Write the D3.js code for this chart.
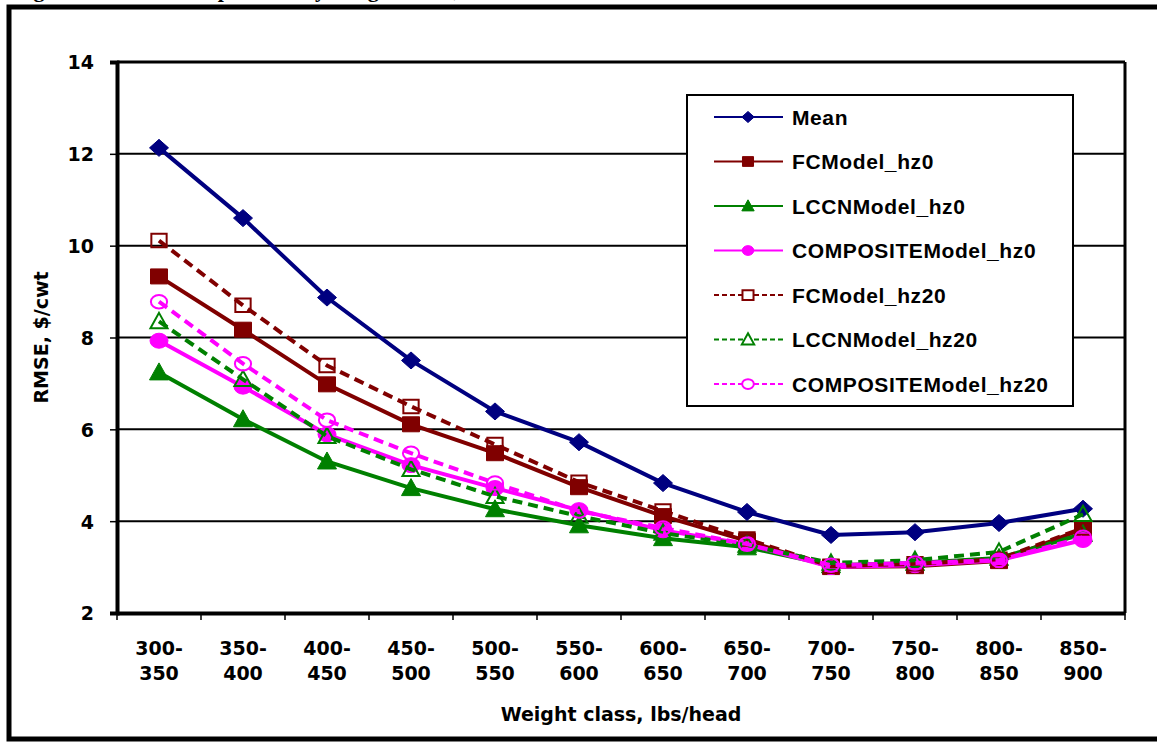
<!DOCTYPE html>
<html>
<head>
<meta charset="utf-8">
<script src="https://cdn.jsdelivr.net/npm/d3@7"></script>
<style>
  body { margin: 0; background: #fff; }
  svg { display: block; }
  text { font-family: "DejaVu Sans", sans-serif; font-weight: bold; fill: #000; }
</style>
</head>
<body>
<svg width="1157" height="744"></svg>
<script>
// weight classes (two-line tick labels)
var categories = ["300-350", "350-400", "400-450", "450-500", "500-550", "550-600",
                  "600-650", "650-700", "700-750", "750-800", "800-850", "850-900"];
var yTicks = [2, 4, 6, 8, 10, 12, 14];

// RMSE, $/cwt
var mean      = [12.13, 10.60, 8.87, 7.50, 6.39, 5.72, 4.83, 4.20, 3.70, 3.76, 3.96, 4.27];
var fcHz0     = [9.33, 8.17, 6.98, 6.11, 5.48, 4.74, 4.11, 3.57, 3.00, 3.02, 3.13, 3.83];
var lccnHz0   = [7.24, 6.22, 5.30, 4.72, 4.26, 3.91, 3.63, 3.43, 3.04, 3.09, 3.20, 3.72];
var compHz0   = [7.93, 6.93, 5.89, 5.22, 4.72, 4.24, 3.80, 3.50, 3.00, 3.04, 3.15, 3.59];
var fcHz20    = [10.11, 8.70, 7.39, 6.50, 5.67, 4.85, 4.22, 3.61, 3.02, 3.07, 3.17, 3.85];
var lccnHz20  = [8.35, 7.09, 5.85, 5.13, 4.54, 4.11, 3.74, 3.48, 3.09, 3.15, 3.33, 4.15];
var compHz20  = [8.78, 7.43, 6.20, 5.48, 4.83, 4.22, 3.85, 3.50, 3.04, 3.09, 3.15, 3.65];

var series = [
  {name: "Mean",                values: mean,     color: "#000080", shape: "diamond",  dash: null,  filled: true},
  {name: "FCModel_hz0",         values: fcHz0,    color: "#800000", shape: "square",   dash: null,  filled: true},
  {name: "LCCNModel_hz0",       values: lccnHz0,  color: "#008000", shape: "triangle", dash: null,  filled: true},
  {name: "COMPOSITEModel_hz0",  values: compHz0,  color: "#FF00FF", shape: "circle",   dash: null,  filled: true},
  {name: "FCModel_hz20",        values: fcHz20,   color: "#800000", shape: "square",   dash: "10,6", filled: false},
  {name: "LCCNModel_hz20",      values: lccnHz20, color: "#008000", shape: "triangle", dash: "10,6", filled: false},
  {name: "COMPOSITEModel_hz20", values: compHz20, color: "#FF00FF", shape: "circle",   dash: "10,6", filled: false}
];

var svg = d3.select("svg"),
    plot = {left: 117, right: 1125, top: 62, bottom: 613};

var x = d3.scaleBand().domain(categories).range([plot.left, plot.right]),
    y = d3.scaleLinear().domain([2, 14]).range([plot.bottom, plot.top]);

/* title, mostly cut off at top of page (as in the source) */
svg.append("text")
    .attr("x", 14).attr("y", -3)
    .style("font-family", "'Liberation Serif', 'Times New Roman', serif")
    .style("font-size", "22px")
    .text("Figure 4. RMSE Comparisons by Weight Class, Oklahoma Feeder Steers");

/* outer frame */
svg.append("rect")
    .attr("x", 9).attr("y", 7).attr("width", 1170).attr("height", 732)
    .attr("fill", "none").attr("stroke", "#000").attr("stroke-width", 5);

/* gridlines */
svg.append("g")
    .selectAll("line")
    .data(yTicks.slice(1, -1))
    .enter().append("line")
    .attr("x1", plot.left).attr("x2", plot.right)
    .attr("y1", function(d) { return y(d); })
    .attr("y2", function(d) { return y(d); })
    .attr("stroke", "#000").attr("stroke-width", 2);

/* plot frame: top + right thin, left + bottom heavy */
svg.append("line").attr("x1", plot.left).attr("x2", plot.right)
    .attr("y1", plot.top).attr("y2", plot.top)
    .attr("stroke", "#000").attr("stroke-width", 3);
svg.append("line").attr("x1", plot.right).attr("x2", plot.right)
    .attr("y1", plot.top).attr("y2", plot.bottom)
    .attr("stroke", "#000").attr("stroke-width", 3);

/* y axis */
var yAxis = svg.append("g")
    .attr("transform", "translate(" + plot.left + ",0)")
    .call(d3.axisLeft(y).tickValues(yTicks).tickSize(7).tickPadding(16).tickFormat(d3.format("d")));
yAxis.select(".domain").attr("stroke-width", 4);
yAxis.selectAll(".tick line").attr("stroke-width", 1.5);
yAxis.selectAll("text").style("font-size", "19px").attr("font-family", null).attr("dy", "0.36em");

/* x axis: ticks on band boundaries */
var xAxis = svg.append("g")
    .attr("transform", "translate(0," + plot.bottom + ")")
    .call(d3.axisBottom(x).tickSize(0).tickFormat(""));
xAxis.select(".domain").attr("stroke-width", 4);
xAxis.selectAll(".tick").remove();

var bounds = categories.map(function(c) { return x(c); }).concat([plot.right]);
xAxis.selectAll(".bound")
    .data(bounds)
    .enter().append("line")
    .attr("x1", function(d) { return d; }).attr("x2", function(d) { return d; })
    .attr("y1", 0).attr("y2", 7)
    .attr("stroke", "#000").attr("stroke-width", 1.5);

var xl = svg.append("g").selectAll("text")
    .data(categories)
    .enter().append("text")
    .attr("text-anchor", "middle")
    .attr("x", function(d) { return x(d) + x.bandwidth() / 2; })
    .attr("y", 655)
    .style("font-size", "19px");
xl.append("tspan").text(function(d) { return d.split("-")[0] + "-"; });
xl.append("tspan")
    .attr("x", function(d) { return x(d) + x.bandwidth() / 2; })
    .attr("dy", 25)
    .text(function(d) { return d.split("-")[1]; });

/* axis titles */
svg.append("text")
    .attr("x", (plot.left + plot.right) / 2).attr("y", 721)
    .attr("text-anchor", "middle")
    .style("font-size", "19px")
    .text("Weight class, lbs/head");

svg.append("text")
    .attr("transform", "translate(48," + ((plot.top + plot.bottom) / 2) + ") rotate(-90)")
    .attr("text-anchor", "middle")
    .style("font-size", "19px")
    .text("RMSE, $/cwt");

/* markers (chart was stretched sideways, so markers are a bit wider than tall) */
function markerPath(shape, k) {
  if (shape === "diamond") {
    return "M0," + (-8.5 * k) + "L" + (9.5 * k) + ",0L0," + (8.5 * k) + "L" + (-9.5 * k) + ",0Z";
  }
  if (shape === "square") {
    return "M" + (-8.5 * k) + "," + (-7.5 * k) + "h" + (17 * k) + "v" + (15 * k) + "h" + (-17 * k) + "Z";
  }
  if (shape === "triangle") {
    return "M0," + (-9.5 * k) + "L" + (9.5 * k) + "," + (7.5 * k) + "L" + (-9.5 * k) + "," + (7.5 * k) + "Z";
  }
  // ellipse
  var rx = 9 * k, ry = 7.5 * k;
  return "M" + (-rx) + ",0A" + rx + "," + ry + " 0 1,0 " + rx + ",0A" + rx + "," + ry + " 0 1,0 " + (-rx) + ",0Z";
}

var line = d3.line()
    .x(function(d, i) { return x(categories[i]) + x.bandwidth() / 2; })
    .y(function(d) { return y(d); });

series.forEach(function(s) {
  var g = svg.append("g").attr("class", "series");
  g.append("path")
      .attr("d", line(s.values))
      .attr("fill", "none")
      .attr("stroke", s.color)
      .attr("stroke-width", 4)
      .attr("stroke-dasharray", s.dash);
  g.selectAll(".pt")
      .data(s.values)
      .enter().append("path")
      .attr("transform", function(d, i) {
        return "translate(" + (x(categories[i]) + x.bandwidth() / 2) + "," + y(d) + ")"; })
      .attr("d", markerPath(s.shape, s.filled ? 1 : 0.9))
      .attr("fill", s.filled ? s.color : "none")
      .attr("stroke", s.color)
      .attr("stroke-width", s.filled ? 1 : 2);
});

/* legend */
var legend = svg.append("g").attr("transform", "translate(687,95)");
legend.append("rect")
    .attr("width", 386).attr("height", 311)
    .attr("fill", "#fff").attr("stroke", "#000").attr("stroke-width", 2);

var item = legend.selectAll(".item")
    .data(series)
    .enter().append("g")
    .attr("transform", function(d, i) { return "translate(0," + (22 + i * 44.5) + ")"; });
item.append("line")
    .attr("x1", 27).attr("x2", 96)
    .attr("stroke", function(d) { return d.color; })
    .attr("stroke-width", 2)
    .attr("stroke-dasharray", function(d) { return d.dash ? "5,3" : null; });
item.append("path")
    .attr("transform", "translate(61,0)")
    .attr("d", function(d) { return markerPath(d.shape, 0.65); })
    .attr("fill", function(d) { return d.filled ? d.color : "#fff"; })
    .attr("stroke", function(d) { return d.color; })
    .attr("stroke-width", function(d) { return d.filled ? 1 : 2; });
item.append("text")
    .attr("x", 105).attr("dy", "0.36em")
    .style("font-family", "'Liberation Sans', Arial, sans-serif")
    .style("font-size", "21px")
    .style("letter-spacing", "0.6px")
    .text(function(d) { return d.name; });
</script>
</body>
</html>
